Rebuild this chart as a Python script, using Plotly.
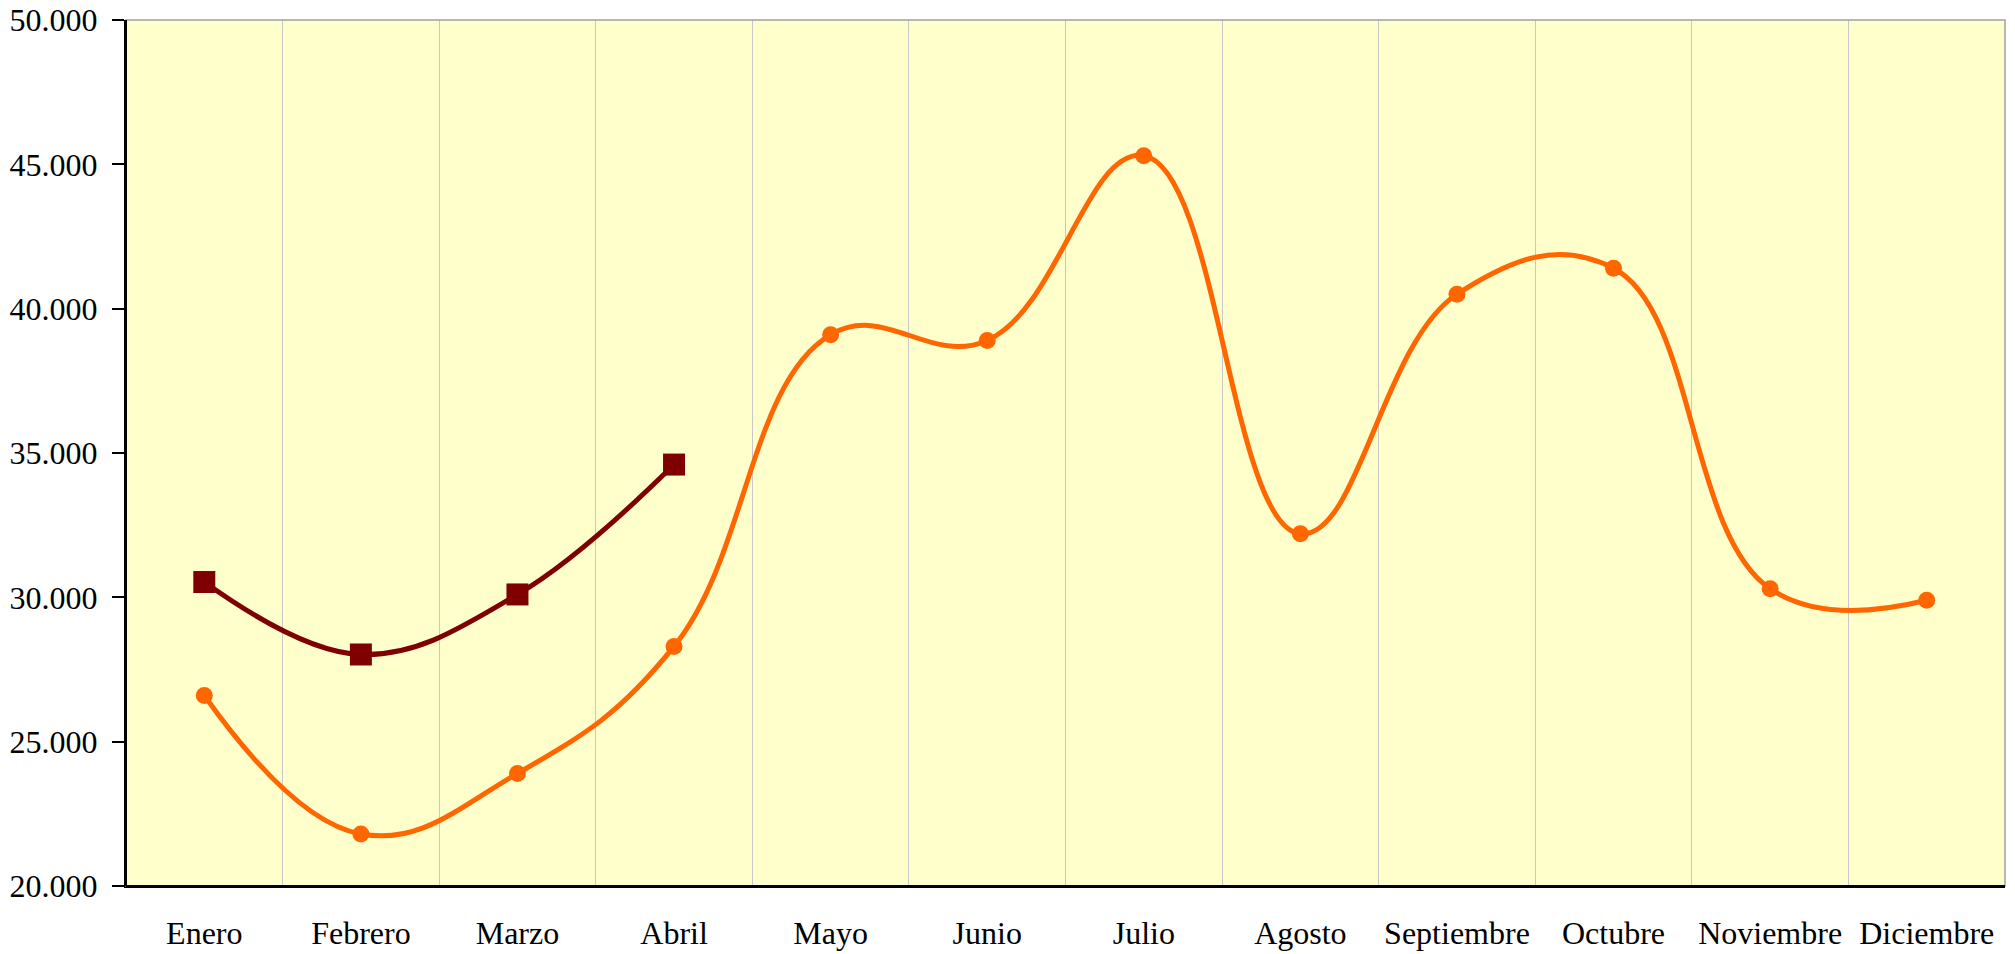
import plotly.graph_objects as go

months = ["Enero", "Febrero", "Marzo", "Abril", "Mayo", "Junio", "Julio",
          "Agosto", "Septiembre", "Octubre", "Noviembre", "Diciembre"]
serie_actual = [30530, 28020, 30100, 34600]
serie_anterior = [26600, 21800, 23900, 28300, 39100, 38900, 45300,
                  32200, 40500, 41400, 30300, 29900]

fig = go.Figure()
fig.add_trace(go.Scatter(
    x=months, y=serie_anterior, mode="lines+markers",
    line=dict(color="#FF6600", width=5, shape="spline", smoothing=1.2),
    marker=dict(symbol="circle", size=17, color="#FF6600"),
    showlegend=False))
fig.add_trace(go.Scatter(
    x=months[:len(serie_actual)], y=serie_actual, mode="lines+markers",
    line=dict(color="#7F0000", width=5, shape="spline", smoothing=1.1),
    marker=dict(symbol="square", size=22, color="#7F0000"),
    showlegend=False))

fig.update_layout(
    width=2015, height=954,
    margin=dict(l=126, r=10, t=20, b=68),
    paper_bgcolor="white",
    plot_bgcolor="#FFFFCC",
    separators=",.",
    font=dict(family="Liberation Serif", size=32, color="black"),
    xaxis=dict(
        type="category", categoryorder="array", categoryarray=months,
        range=[-0.5, 11.5], tickson="boundaries", automargin=False,
        showgrid=True, gridcolor="#C8C8C8", gridwidth=1,
        ticks="", showline=True, linecolor="black", linewidth=2,
        ticklabelstandoff=18, mirror=False,
        tickfont=dict(family="Liberation Serif", size=32, color="black")),
    yaxis=dict(
        range=[20000, 50000], dtick=5000, tickformat=",d", automargin=False,
        showgrid=False, zeroline=False, ticklabeloverflow="allow",
        ticks="outside", ticklen=12, tickwidth=2, tickcolor="black",
        showline=True, linecolor="black", linewidth=2,
        ticklabelstandoff=8,
        tickfont=dict(family="Liberation Serif", size=32, color="black")),
)
fig.add_shape(type="rect", xref="paper", yref="paper", x0=0, x1=1, y0=0, y1=1,
              line=dict(color="#A0A0A0", width=1.5), layer="above")
fig.add_shape(type="line", xref="paper", yref="paper", x0=0, x1=0, y0=0, y1=1,
              line=dict(color="black", width=2), layer="above")
fig.add_shape(type="line", xref="paper", yref="paper", x0=0, x1=1, y0=0, y1=0,
              line=dict(color="black", width=2), layer="above")

fig.write_html("out.html", config={"displayModeBar": False},
               post_script="document.body.style.margin='0';document.body.style.overflow='hidden';")
